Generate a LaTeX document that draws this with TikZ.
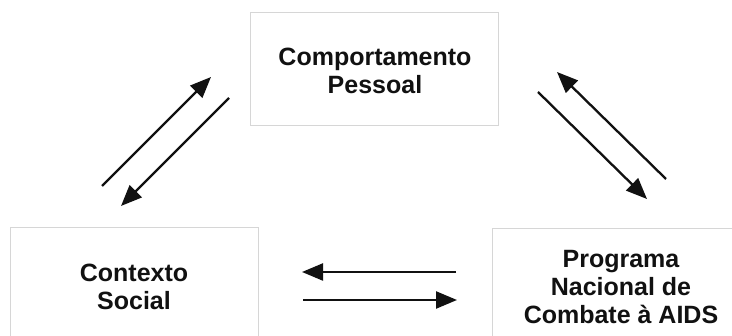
\documentclass[tikz,border=0pt]{standalone}
\usepackage{fontspec}
\setmainfont{Liberation Sans}
\usetikzlibrary{arrows.meta}
\definecolor{boxline}{HTML}{D6D6D6}
\definecolor{ink}{HTML}{111111}
\tikzset{
  box/.style={draw=boxline, line width=1.2pt, fill=white, inner sep=0pt},
  lbl/.style={align=center, font=\fontsize{25}{28}\selectfont\bfseries, text=ink},
  arr/.style={line width=2.3pt, draw=ink, -{Triangle[length=21pt,width=17pt]}}
}
\begin{document}
\begin{tikzpicture}[x=1pt,y=-1pt]
\useasboundingbox (0,0) rectangle (732,336);
\clip (0,0) rectangle (732,336);
% boxes
\node[box, minimum width=248pt, minimum height=113pt, anchor=north west] (cp) at (250,12) {};
\node[box, minimum width=248pt, minimum height=130pt, anchor=north west] (cs) at (10,227) {};
\node[box, minimum width=260pt, minimum height=130pt, anchor=north west] (pn) at (492,228) {};
% labels
\node[lbl] (tcp) at (375,71) {Comportamento\\Pessoal};
\node[lbl] (tcs) at (134,287) {Contexto\\Social};
\node[lbl] (tpn) at (621,287) {Programa\\Nacional de\\Combate à AIDS};
% arrow end points
\coordinate (a1s) at (102,186); \coordinate (a1e) at (211,77);
\coordinate (a2s) at (229,98);  \coordinate (a2e) at (121,206);
\coordinate (a3s) at (666,179); \coordinate (a3e) at (557,72);
\coordinate (a4s) at (538,92);  \coordinate (a4e) at (647,199);
\coordinate (a5s) at (456,272); \coordinate (a5e) at (302,272);
\coordinate (a6s) at (303,300); \coordinate (a6e) at (457,300);
\draw[arr] (a1s) -- (a1e);
\draw[arr] (a2s) -- (a2e);
\draw[arr] (a3s) -- (a3e);
\draw[arr] (a4s) -- (a4e);
\draw[arr] (a5s) -- (a5e);
\draw[arr] (a6s) -- (a6e);
\end{tikzpicture}
\end{document}
